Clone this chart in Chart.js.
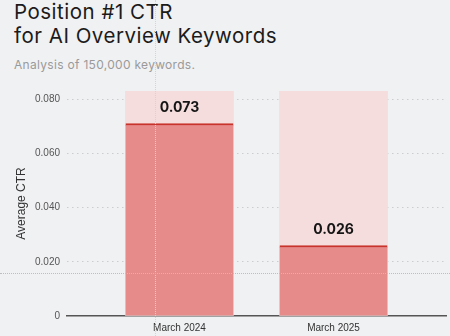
<!DOCTYPE html>
<html>
<head>
<meta charset="utf-8">
<script src="https://cdn.jsdelivr.net/npm/chart.js@4"></script>
<style>
    body { margin: 0; background: #f0f1f3; }
    #wrap { position: relative; width: 450px; height: 336px; overflow: hidden; }
    #title { position: absolute; left: 14px; top: 0; font: 400 20.5px/24px Inter, sans-serif; letter-spacing: 0.5px; color: #1b1b1b; }
    #subtitle { position: absolute; left: 14px; top: 57px; font: 400 12px/16px Inter, sans-serif; letter-spacing: 0.3px; color: #9a9a9a; }
    #chart-box { position: absolute; left: 0; top: 0; width: 450px; height: 336px; }
    .guide-v { position: absolute; left: 155px; top: 0; height: 336px; border-left: 1px dotted #d3d4d6; }
    .guide-h { position: absolute; top: 273px; left: 0; width: 450px; border-top: 1px dotted #bdbec0; }
</style>
</head>
<body>
<div id="wrap">
    <div id="title">Position #1 CTR<br>for AI Overview Keywords</div>
    <div id="subtitle">Analysis of 150,000 keywords.</div>
    <div id="chart-box"><canvas id="ctr-chart"></canvas></div>
    <div class="guide-v"></div>
    <div class="guide-h"></div>
</div>
<script>
// Chart data
const categories = ['March 2024', 'March 2025'];
const ctrValues = [0.071, 0.026];
const ctrLabels = ['0.073', '0.026'];
const maxValues = [0.083, 0.083];
const yTicks = [0, 0.02, 0.04, 0.06, 0.08];

const axisFont = { family: 'Arial, "Liberation Sans", sans-serif', size: 10 };

// Draw the value labels above each bar
const valueLabels = {
    id: 'valueLabels',
    afterDatasetsDraw(chart) {
        const ctx = chart.ctx;
        const meta = chart.getDatasetMeta(1);
        ctx.save();
        ctx.font = '700 14px Inter, sans-serif';
        ctx.fillStyle = '#151515';
        ctx.textAlign = 'center';
        ctx.textBaseline = 'middle';
        meta.data.forEach((bar, i) => {
            ctx.fillText(ctrLabels[i], bar.x, bar.y - 16);
        });
        ctx.restore();
    }
};

const ctx = document.getElementById('ctr-chart').getContext('2d');

new Chart(ctx, {
    type: 'bar',
    data: {
        datasets: [
            {
                label: 'Max',
                data: categories.map((c, i) => ({ x: i, y: maxValues[i] })),
                backgroundColor: '#f5dcdd',
                borderWidth: 0,
                barThickness: 108,
                grouped: false,
                order: 2
            },
            {
                label: 'Average CTR',
                data: categories.map((c, i) => ({ x: i, y: ctrValues[i] })),
                backgroundColor: '#e78a8a',
                borderColor: '#c8342c',
                borderWidth: { top: 2, left: 0, right: 0, bottom: 0 },
                borderSkipped: 'start',
                barThickness: 108,
                grouped: false,
                order: 1
            }
        ]
    },
    options: {
        responsive: true,
        maintainAspectRatio: false,
        animation: false,
        layout: {
            padding: { top: 91, right: 4, bottom: 0, left: 0 }
        },
        plugins: {
            legend: { display: false },
            tooltip: { enabled: false }
        },
        scales: {
            x: {
                type: 'linear',
                min: -0.73,
                max: 1.73,
                offset: false,
                grid: { display: false, drawTicks: false },
                border: { display: true, color: '#555', width: 1.5 },
                afterBuildTicks: (scale) => {
                    scale.ticks = categories.map((c, i) => ({ value: i }));
                },
                afterFit: (scale) => { scale.height = 20; },
                ticks: {
                    font: axisFont,
                    color: '#333',
                    padding: 6,
                    autoSkip: false,
                    maxRotation: 0,
                    callback: (v) => categories[v]
                }
            },
            y: {
                min: 0,
                max: 0.083,
                z: 1,
                afterBuildTicks: (scale) => {
                    scale.ticks = yTicks.map(v => ({ value: v }));
                },
                afterFit: (scale) => { scale.width = 67; },
                grid: {
                    color: (c) => c.tick && c.tick.value === 0 ? 'rgba(0,0,0,0)' : 'rgba(0,0,0,0.15)',
                    lineWidth: 1,
                    drawTicks: false
                },
                border: { display: false, dash: [1.5, 3.5] },
                ticks: {
                    font: axisFont,
                    color: '#555',
                    padding: 7,
                    callback: (v) => v === 0 ? '0' : v.toFixed(3)
                },
                title: {
                    display: true,
                    text: 'Average CTR',
                    color: '#333',
                    font: { family: 'Arial, "Liberation Sans", sans-serif', size: 12 },
                    padding: { top: 14, bottom: 0 }
                }
            }
        }
    },
    plugins: [valueLabels]
});
</script>
</body>
</html>
